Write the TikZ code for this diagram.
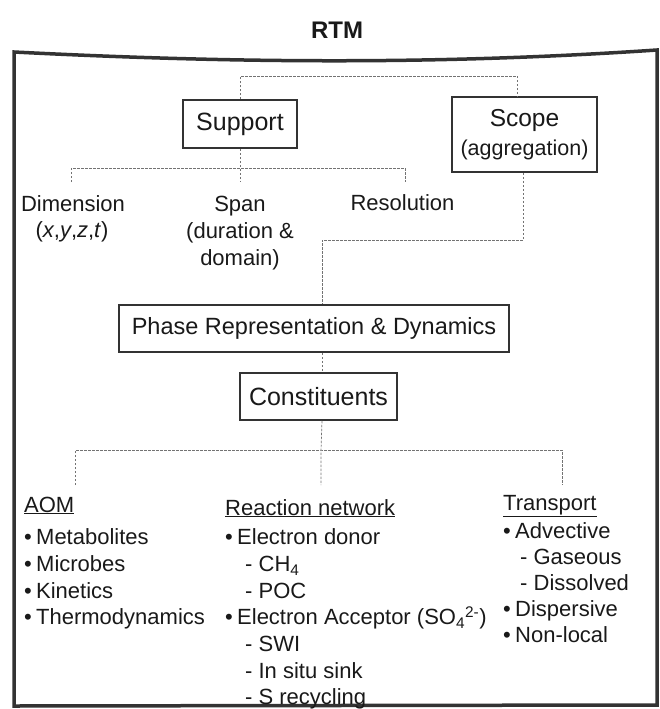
\documentclass[tikz,border=0pt]{standalone}
\usepackage{fontspec}
\setmainfont{Liberation Sans}

\newcommand{\bul}{\makebox[12pt][l]{•}}
\newcommand{\dsh}[1][20pt]{\hspace*{#1}- }

\tikzset{
	box/.style={draw=black!80, line width=1.5pt, inner sep=0pt, text=black!90},
	link/.style={draw=black!55, line width=0.7pt, dash pattern=on 2.5pt off 1.5pt},
	txt/.style={inner sep=0pt, anchor=base, text=black!90, font=\fontsize{22}{26}\selectfont},
	item/.style={txt, anchor=base west},
}

\begin{document}
\begin{tikzpicture}[x=1pt, y=-1pt]
		\useasboundingbox (0, 0) rectangle (659, 709);

		\draw [black!80, line width=3.5pt] (14, 52) .. controls (250, 64) and (450, 64) .. (657, 50) -- (657, 705) -- (14, 706) -- cycle;
		\node [font=\bfseries\fontsize{24}{28}\selectfont, text=black!90] (rtm) at (337, 30) {RTM};

		\node [box, minimum width=114pt, minimum height=48pt, font=\fontsize{25}{30}\selectfont] (support) at (240, 124) {Support};
		\node [box, minimum width=145pt, minimum height=75pt, align=center, font=\fontsize{24.5}{29}\selectfont] (scope) at (524.5, 134.5) {Scope\\{\fontsize{21.5}{29}\selectfont (aggregation)}};
		\node [box, minimum width=390pt, minimum height=47pt, font=\fontsize{23.5}{28}\selectfont] (phase) at (314, 328.5) {Phase Representation \& Dynamics};
		\node [box, minimum width=157pt, minimum height=47pt, font=\fontsize{25}{30}\selectfont] (const) at (318.5, 396.5) {Constituents};

		\node [txt] (dim1) at (73, 211) {Dimension};
		\node [txt] (dim2) at (72, 237) {(\textit{x},\textit{y},\textit{z},\textit{t})};
		\node [txt] (span1) at (240, 211) {Span};
		\node [txt] (span2) at (240, 238) {(duration \&};
		\node [txt] (span3) at (240, 265) {domain)};
		\node [txt] (res1) at (402.5, 210) {Resolution};

		\coordinate (sfork) at (240, 168);
		\coordinate (dimtop) at (71, 182);
		\coordinate (spantop) at (240, 181);
		\coordinate (restop) at (405, 182);
		\coordinate (pfork) at (322, 240);
		\coordinate (cfork) at (321, 450);
		\coordinate (aomtop) at (75, 485);
		\coordinate (rxtop) at (321, 485);
		\coordinate (trtop) at (562, 485);

		\draw [link] (support.north) -- ++(0, -23) -| ([xshift=-7pt]scope.north);
		\draw [link] (support.south) -- (spantop);
		\draw [link] (dimtop) |- (sfork) -| (restop);
		\draw [link] ([xshift=-1pt]scope.south) |- (pfork) -- (pfork |- phase.north);
		\draw [link] (pfork |- phase.south) -- (pfork |- const.north);
		\draw [link] (pfork |- const.south) -- (cfork) -- (rxtop);
		\draw [link] (aomtop) |- (cfork) -| (trtop);

		\node [item] (aom0) at (24, 512) {\underline{AOM}};
		\foreach \t [count=\i] in {Metabolites, Microbes, Kinetics, Thermodynamics} {
			\node [item] (aom\i) at (24, 518.3 + 26.67*\i) {\bul\t};
		}

		\node [item] (rx0) at (225, 515) {\underline{Reaction network}};
		\foreach \t [count=\i] in {\bul Electron donor, \dsh CH\textsubscript{4}, \dsh POC, {\bul Electron Acceptor (SO\textsubscript{4}\textsuperscript{2-})}, \dsh SWI, \dsh In situ sink, \dsh S recycling} {
			\node [item] (rx\i) at (225, 518.3 + 26.67*\i) {\t};
		}

		\node [item] (tr0) at (503, 510) {\underline{Transport}};
		\foreach \t [count=\i] in {\bul Advective, \dsh[17pt]Gaseous, \dsh[17pt]Dissolved, \bul Dispersive, \bul Non-local} {
			\node [item] (tr\i) at (503, 512 + 26*\i) {\t};
		}
	\end{tikzpicture}
\end{document}
